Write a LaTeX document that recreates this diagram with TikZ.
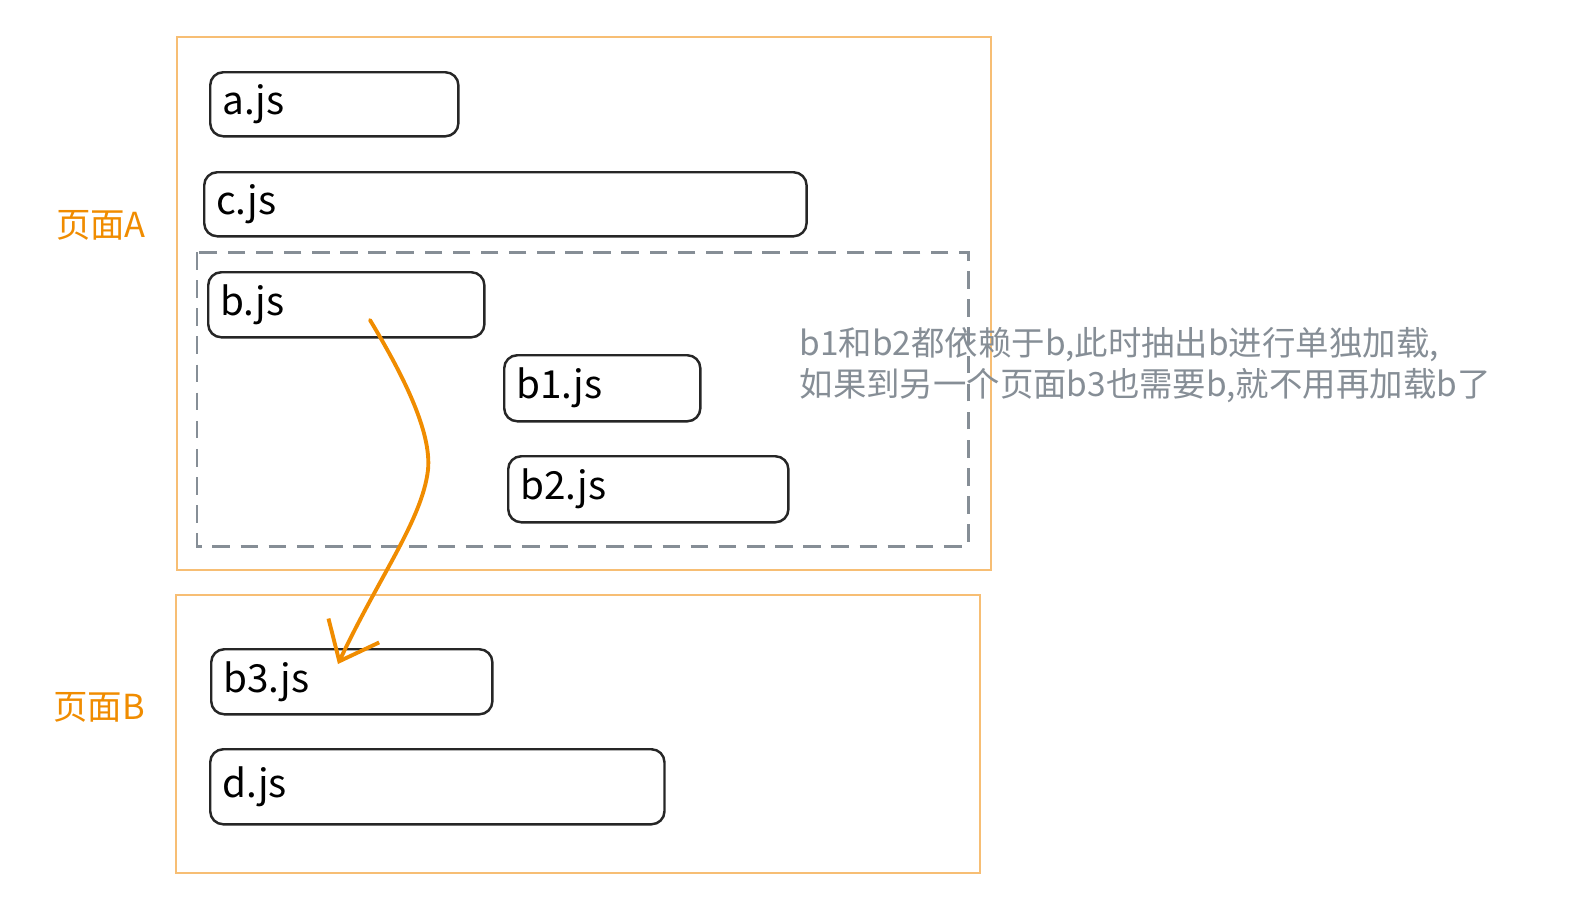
\documentclass[tikz,border=0pt]{standalone}
\usepackage{xcolor}
\usepackage{fontspec}
\newfontfamily\cjk{Noto Sans CJK SC}
\usepackage{tikz}
\usetikzlibrary{arrows.meta}
\definecolor{pageorange}{HTML}{F08C00}
\definecolor{frameorange}{HTML}{F7BE74}
\definecolor{notegray}{HTML}{868E96}

\begin{document}
\begin{tikzpicture}[x=0.01cm, y=-0.01cm,
	every node/.style={font=\cjk},
	jsbox/.style={draw=black!85, line width=0.7pt, rounded corners=0.13cm, anchor=north west,
		inner xsep=0.12cm, inner ysep=0pt, align=left, font=\cjk\fontsize{11}{13}\selectfont},
	pagelabel/.style={text=pageorange, font=\cjk\fontsize{9.8}{11}\selectfont}]
			\useasboundingbox (0,0) rectangle (1596,920);
			% Page frames
			\draw[frameorange, line width=0.5pt] (177,37) rectangle (991,570);
			\draw[frameorange, line width=0.5pt] (176,595) rectangle (980,873);
			\draw[notegray, line width=0.85pt, dash pattern=on 5pt off 3pt] (197,252) rectangle (968,546);
			% Nodes
			\node[pagelabel] (pa) at (101,225) {页面A};
			\node[pagelabel] (pb) at (99,707) {页面B};
			\node[jsbox, text width=2.24cm, minimum height=0.64cm] (a) at (209,71) {a.js};
			\node[jsbox, text width=5.78cm, minimum height=0.64cm] (c) at (203,171) {c.js};
			\node[jsbox, text width=2.52cm, minimum height=0.65cm] (b) at (207,271) {b.js};
			\node[jsbox, text width=1.72cm, minimum height=0.66cm] (b1) at (503,354) {b1.js};
			\node[jsbox, text width=2.56cm, minimum height=0.66cm] (b2) at (507,455) {b2.js};
			\node[jsbox, text width=2.57cm, minimum height=0.65cm] (b3) at (210,648) {b3.js};
			\node[jsbox, text width=4.30cm, minimum height=0.75cm] (d) at (209,748) {d.js};
			\node[anchor=west, align=left, text=notegray, inner sep=0pt,
				font=\cjk\fontsize{9.5}{11.6}\selectfont] (note) at (799,365)
				{b1和b2都依赖于b,此时抽出b进行单独加载,\\如果到另一个页面b3也需要b,就不用再加载b了};
			% Edge
			\coordinate (src) at (370,320);
			\coordinate (dst) at (338,664);
			\draw[pageorange, line width=1.1pt, line cap=round, -{Straight Barb[length=3.4mm, width=5.6mm]}]
				(src) .. controls (400,370) and (432,430) .. (428,470)
				.. controls (422,520) and (380,575) .. (dst);
		\end{tikzpicture}
\end{document}
